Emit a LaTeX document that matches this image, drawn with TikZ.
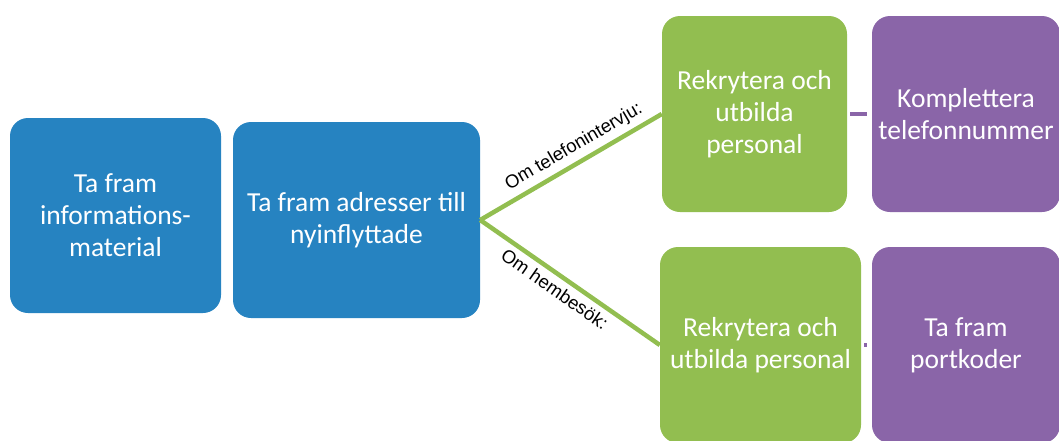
\documentclass[tikz,border=0pt]{standalone}
\usepackage{fontspec}
\setmainfont{Carlito}
\newfontfamily\labelfont{Liberation Sans}
\definecolor{stepblue}{RGB}{38,131,193}
\definecolor{stepgreen}{RGB}{146,190,80}
\definecolor{steppurple}{RGB}{138,101,168}
\begin{document}
\begin{tikzpicture}[x=1pt,y=-1pt,
  card/.style={rounded corners=18pt, draw=none, align=center, text=white,
    font=\fontsize{27.5}{32}\selectfont, inner sep=0pt, minimum height=196pt},
  bluecard/.style={card, fill=stepblue},
  greencard/.style={card, fill=stepgreen},
  purplecard/.style={card, fill=steppurple},
  branch/.style={draw=stepgreen, line width=4.5pt},
  link/.style={draw=steppurple, line width=4pt, shorten <=3pt, shorten >=5pt},
  cond/.style={font=\labelfont\fontsize{18.5}{20}\selectfont, text=black, sloped, inner sep=3pt}]
\useasboundingbox (0,0) rectangle (1059,440);
\clip (0,0) rectangle (1059,440);

% first column: preparation steps
\node[bluecard, minimum width=211pt, minimum height=195pt] (info) at (115.5,215.5)
  {Ta fram\\informations-\\material};
\node[bluecard, minimum width=247pt] (addr) at (356.5,220)
  {Ta fram adresser till\\nyinflyttade};

% telephone branch
\node[greencard, minimum width=185pt] (rec1) at (754.5,114)
  {Rekrytera och\\utbilda\\personal};
\node[purplecard, minimum width=188pt] (phone) at (966,114)
  {Komplettera\\telefonnummer};

% home-visit branch
\node[greencard, minimum width=201pt] (rec2) at (760.5,345)
  {Rekrytera och\\utbilda personal};
\node[purplecard, minimum width=188pt] (codes) at (966,345)
  {Ta fram\\portkoder};

% connectors
\draw[branch] (addr.east) -- node[cond, above=2pt, pos=0.56] {Om telefonintervju:} (rec1.west);
\draw[branch] (addr.east) -- node[cond, below=2pt, pos=0.46] {Om hembesök:} (rec2.west);
\draw[link] (rec1.east) -- (phone.west);
\draw[link] (rec2.east) -- (codes.west);
\end{tikzpicture}
\end{document}
